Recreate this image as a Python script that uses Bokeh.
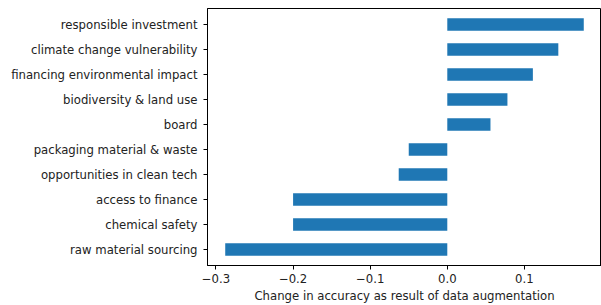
from bokeh.plotting import figure
from bokeh.models import FactorRange, Range1d, FixedTicker, CustomJSTickFormatter, ColumnDataSource
from bokeh.embed import file_html
from bokeh.resources import INLINE

# Data (bottom to top)
categories = ["raw material sourcing", "chemical safety", "access to finance",
              "opportunities in clean tech", "packaging material & waste", "board",
              "biodiversity & land use", "financing environmental impact",
              "climate change vulnerability", "responsible investment"]
changes = [-0.288, -0.200, -0.200, -0.063, -0.050, 0.056, 0.078, 0.111, 0.144, 0.177]
x_ticks = [-0.3, -0.2, -0.1, 0.0, 0.1]
x_label = "Change in accuracy as result of data augmentation"

src = ColumnDataSource(dict(cat=categories, val=changes, zero=[0.0] * len(changes)))

p = figure(width=601, height=305, output_backend="svg", toolbar_location=None,
           y_range=FactorRange(factors=categories, range_padding=0.028),
           x_range=Range1d(-0.311, 0.2),
           min_border_left=207, min_border_right=0, min_border_top=8, min_border_bottom=40)

p.hbar(y="cat", left="zero", right="val", height=0.5, source=src,
       fill_color="#1f77b4", line_color=None)

p.xgrid.visible = False
p.ygrid.visible = False
p.outline_line_color = "black"
p.outline_line_width = 1
p.background_fill_color = "white"
p.border_fill_color = "white"

font = "DejaVu Sans"
for ax in (p.xaxis[0], p.yaxis[0]):
    ax.axis_line_color = "black"
    ax.major_tick_line_color = "black"
    ax.major_tick_in = 0
    ax.major_tick_out = 4
    ax.minor_tick_line_color = None
    ax.major_label_text_font = font
    ax.major_label_text_font_size = "11.7px"
    ax.major_label_text_color = "#222222"

p.yaxis.major_label_standoff = 6
p.xaxis.major_label_standoff = 4

p.xaxis.ticker = FixedTicker(ticks=x_ticks)
p.xaxis.formatter = CustomJSTickFormatter(code="return tick.toFixed(1).replace('-', '\u2212');")
p.xaxis.axis_label = x_label
p.xaxis.axis_label_text_font = font
p.xaxis.axis_label_text_font_size = "11.7px"
p.xaxis.axis_label_text_font_style = "normal"
p.xaxis.axis_label_text_color = "#222222"
p.xaxis.axis_label_standoff = 3

open("out.html", "w").write(file_html(p, INLINE))
